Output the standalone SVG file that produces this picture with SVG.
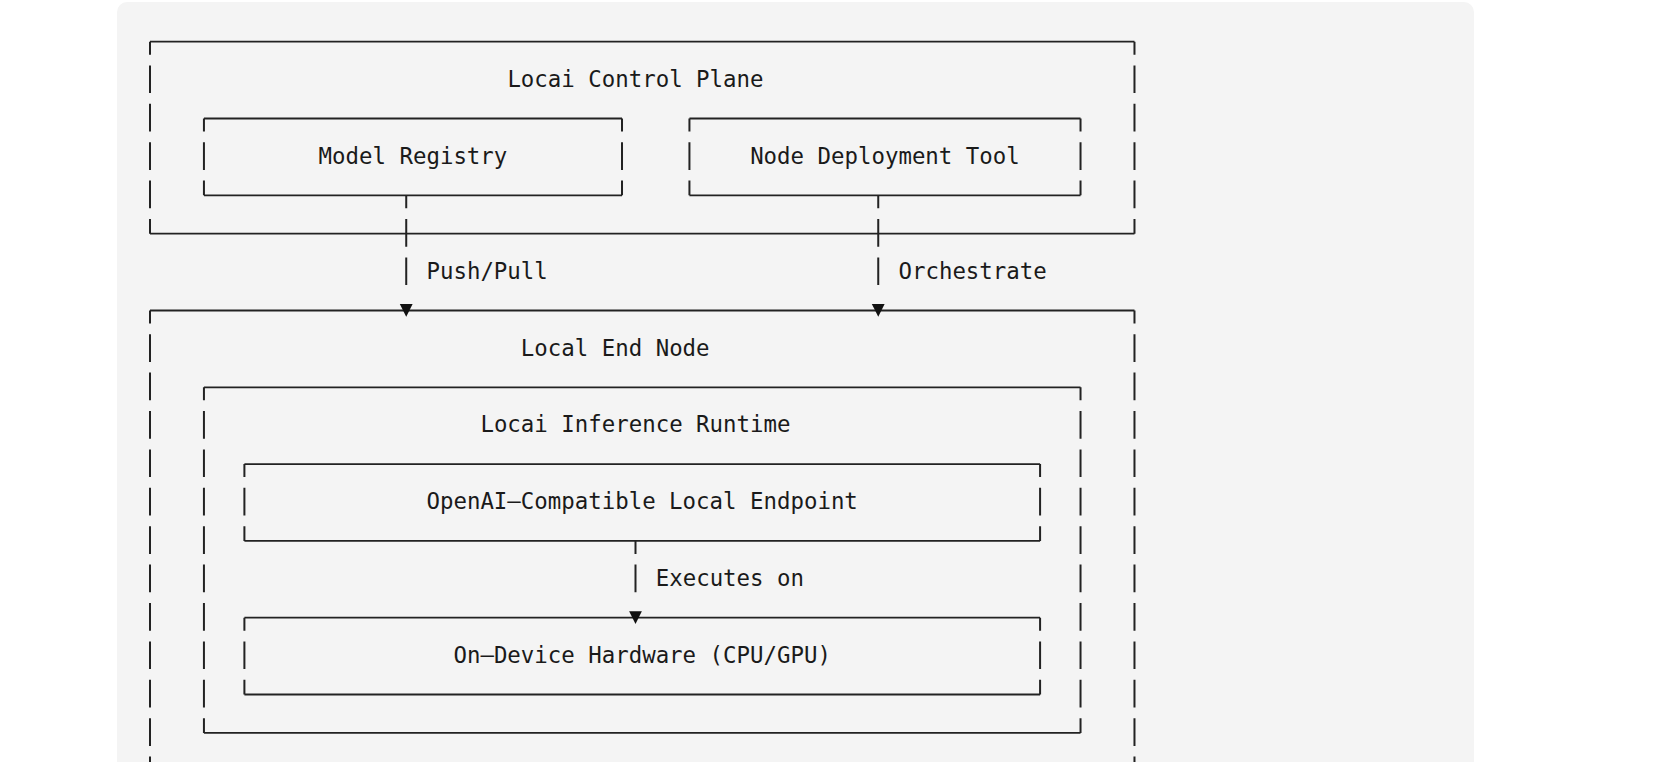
<svg xmlns="http://www.w3.org/2000/svg" width="1656" height="762" viewBox="0 0 1656 762">
  <style>
    .h { fill: none; stroke: #222; stroke-width: 1.8; }
    .v { fill: none; stroke: #222; stroke-width: 2; stroke-dasharray: 27.7 10.7; stroke-dashoffset: 14.7; }
    .lbl { font-family: "DejaVu Sans Mono", "Liberation Mono", monospace; font-size: 22.4px; fill: #1a1a1a; }
  </style>
  <defs>
    <marker id="tri" markerUnits="userSpaceOnUse" markerWidth="40" markerHeight="20" refX="0" refY="0" orient="auto" overflow="visible">
      <path d="M19,-6.4 L31.7,0 L19,6.4 Z" fill="#111"/>
    </marker>
  </defs>
  <rect x="117" y="2" width="1357" height="800" rx="10" fill="#f4f4f4"/>

  <g id="control-plane">
    <path class="h" d="M150,41.7 H1134.48 M150,233.7 H1134.48"/>
    <path class="v" d="M150,41.7 V233.7 M1134.48,41.7 V233.7"/>
    <text class="lbl" x="507.38" y="86.7">Locai Control Plane</text>
  </g>

  <g id="model-registry">
    <path class="h" d="M203.94,118.5 H622.01 M203.94,195.3 H622.01"/>
    <path class="v" d="M203.94,118.5 V195.3 M622.01,118.5 V195.3"/>
    <text class="lbl" x="318.58" y="163.5">Model Registry</text>
  </g>

  <g id="node-deployment-tool">
    <path class="h" d="M689.44,118.5 H1080.53 M689.44,195.3 H1080.53"/>
    <path class="v" d="M689.44,118.5 V195.3 M1080.53,118.5 V195.3"/>
    <text class="lbl" x="750.13" y="163.5">Node Deployment Tool</text>
  </g>

  <g id="local-end-node">
    <path class="h" d="M150,310.5 H1134.48"/>
    <path class="v" d="M150,310.5 V800 M1134.48,310.5 V800"/>
    <text class="lbl" x="520.87" y="355.5">Local End Node</text>
  </g>

  <g id="inference-runtime">
    <path class="h" d="M203.94,387.3 H1080.53 M203.94,732.9 H1080.53"/>
    <path class="v" d="M203.94,387.3 V732.9 M1080.53,387.3 V732.9"/>
    <text class="lbl" x="480.41" y="432.3">Locai Inference Runtime</text>
  </g>

  <g id="openai-endpoint">
    <path class="h" d="M244.4,464.1 H1040.08 M244.4,540.9 H1040.08"/>
    <path class="v" d="M244.4,464.1 V540.9 M1040.08,464.1 V540.9"/>
    <text class="lbl" x="426.47" y="509.1">OpenAI–Compatible Local Endpoint</text>
  </g>

  <g id="hardware">
    <path class="h" d="M244.4,617.7 H1040.08 M244.4,694.5 H1040.08"/>
    <path class="v" d="M244.4,617.7 V694.5 M1040.08,617.7 V694.5"/>
    <text class="lbl" x="453.44" y="662.7">On–Device Hardware (CPU/GPU)</text>
  </g>

  <g id="connectors">
    <path class="v" d="M406.23,195.3 V285.1" marker-end="url(#tri)"/>
    <text class="lbl" x="426.47" y="278.7">Push/Pull</text>
    <path class="v" d="M878.24,195.3 V285.1" marker-end="url(#tri)"/>
    <text class="lbl" x="898.48" y="278.7">Orchestrate</text>
    <path class="v" d="M635.5,540.9 V592.3" marker-end="url(#tri)"/>
    <text class="lbl" x="655.73" y="585.9">Executes on</text>
  </g>
</svg>
